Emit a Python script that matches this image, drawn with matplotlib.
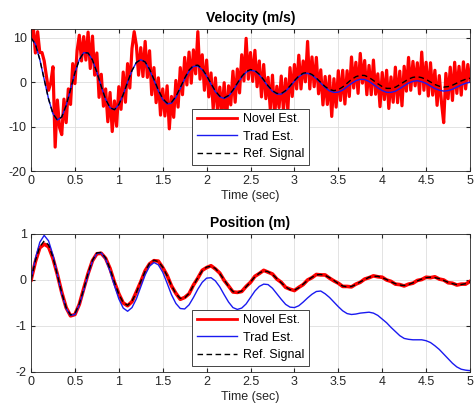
import numpy as np
import matplotlib
matplotlib.use("Agg")
import matplotlib.pyplot as plt

plt.rcParams["font.family"] = "Liberation Sans"
plt.rcParams["font.size"] = 9
plt.rcParams["axes.unicode_minus"] = False

# sample times: 0.05 s for the smooth signals, 0.025 s for the noisy estimate
t = np.linspace(0, 5, 101)
t_fine = np.linspace(0, 5, 201)

# velocity (m/s)
vel_ref = [10.0, 8.60, 5.13, 0.66, -3.79, -7.09, -8.51, -7.82, -5.26, -1.64,
           2.13, 5.10, 6.67, 6.59, 5.01, 2.27, -0.94, -3.85, -5.74, -6.18,
           -5.03, -2.78, 0.03, 2.66, 4.47, 5.09, 4.58, 2.97, 0.68, -1.74,
           -3.68, -4.69, -4.50, -3.20, -1.21, 0.93, 2.74, 3.77, 3.86, 3.02,
           1.53, -0.29, -2.00, -3.13, -3.50, -2.97, -1.76, -0.20, 1.32, 2.42,
           2.87, 2.66, 1.81, 0.56, -0.79, -1.89, -2.50, -2.53, -1.87, -0.83,
           0.37, 1.40, 2.06, 2.19, 1.75, 0.96, -0.03, -0.98, -1.65, -1.89,
           -1.67, -1.06, -0.22, 0.62, 1.26, 1.57, 1.53, 1.08, 0.40, -0.34,
           -0.97, -1.37, -1.38, -1.11, -0.54, 0.11, 0.72, 1.11, 1.25, 1.04,
           0.63, 0.06, -0.50, -0.89, -1.09, -0.98, -0.67, -0.19, 0.30, 0.68,
           0.92]

vel_trad = [10.0, 8.60, 5.13, 0.66, -3.79, -7.09, -8.51, -7.82, -5.26, -1.64,
            2.13, 5.10, 6.67, 6.59, 5.01, 2.27, -0.94, -3.85, -5.74, -6.18,
            -5.03, -2.78, 0.03, 2.66, 4.47, 5.09, 4.58, 2.77, 0.48, -1.94,
            -3.88, -4.89, -4.70, -3.40, -1.41, 0.73, 2.54, 3.57, 3.66, 2.82,
            1.38, -0.44, -2.15, -3.28, -3.65, -3.12, -1.91, -0.35, 1.17, 2.27,
            2.72, 2.51, 1.66, 0.41, -0.94, -2.04, -2.65, -2.68, -2.02, -0.98,
            0.22, 1.25, 1.91, 2.04, 1.60, 0.81, -0.18, -1.18, -1.95, -2.29,
            -2.22, -1.76, -1.02, -0.28, 0.36, 0.67, 0.63, 0.18, -0.50, -1.24,
            -1.87, -2.27, -2.28, -2.01, -1.44, -0.79, -0.18, 0.21, 0.35, 0.14,
            -0.27, -0.84, -1.40, -1.79, -1.99, -1.88, -1.57, -1.09, -0.60, -0.22,
            0.02]

vel_novel = [10.0, 12.7, 6.6, 11.4, 6.7, 6.7, 4.8, 1.4, -1.8, -0.1,
             3.5, -14.6, -4.0, -10.2, -11.8, -3.8, -9.1, -1.5, -5.0, 4.2,
             -0.3, 7.1, 10.6, 4.8, 10.3, 5.0, 11.3, 3.1, 10.4, 1.6,
             6.6, -3.4, 1.8, -5.4, -1.5, -8.9, -2.3, -11.1, -4.2, -9.9,
             -1.0, -6.1, 2.3, -4.5, 4.2, -1.3, 7.6, 11.4, 8.3, 1.6,
             7.8, 1.3, 9.2, 1.1, 7.1, -2.8, 3.3, -4.6, 1.0, -7.4,
             -1.5, -7.6, -0.8, -10.5, -3.2, -7.9, 0.4, -5.6, 3.3, -2.8,
             5.6, -0.6, 6.8, -0.2, 7.3, 1.9, 11.4, 0.7, 6.2, -1.8,
             5.0, -3.3, 2.1, -6.0, 1.0, -6.7, -1.1, -7.1, -0.1, -8.9,
             -0.8, -5.1, 2.5, -4.5, 3.0, -2.4, 6.2, 0.3, 9.9, 0.7,
             6.7, 0.2, 7.2, -1.0, 4.8, -3.3, 4.0, -3.7, 1.1, -6.0,
             1.6, -7.5, -0.9, -5.7, 1.4, -6.4, 0.8, -6.3, 3.3, -3.2,
             4.0, -1.5, 6.1, -1.5, 4.8, 0.1, 9.2, -1.5, 5.7, -1.0,
             5.6, -2.6, 2.8, -5.1, 1.3, -5.0, 1.4, -7.7, 0.8, -5.6,
             2.6, -4.1, 2.7, -4.9, 2.6, -3.2, 5.7, -1.3, 4.5, -2.5,
             6.5, -0.2, 4.9, -2.8, 3.8, -2.8, 5.0, -2.7, 1.9, -5.5,
             2.2, -3.9, 2.7, -5.9, 1.2, -4.5, 3.4, -4.6, 2.5, -5.3,
             3.6, -2.0, 5.6, -1.8, 4.7, -0.8, 4.4, -2.6, 6.8, -1.8,
             4.5, -3.1, 4.4, -2.9, 2.7, -5.2, 1.5, -4.5, -9.1, 2.0,
             -3.7, 3.4, -4.1, 4.5, -2.5, 3.6, -2.9, 4.6, -1.5, 4.0,
             0.2]

# position (m)
pos_ref = [0.00, 0.42, 0.72, 0.85, 0.76, 0.49, 0.11, -0.28, -0.60, -0.76,
           -0.73, -0.52, -0.20, 0.15, 0.43, 0.59, 0.60, 0.48, 0.24, -0.04,
           -0.31, -0.49, -0.55, -0.46, -0.27, -0.03, 0.19, 0.36, 0.43, 0.40,
           0.28, 0.09, -0.12, -0.30, -0.40, -0.39, -0.29, -0.12, 0.05, 0.20,
           0.28, 0.30, 0.25, 0.14, 0.00, -0.14, -0.25, -0.28, -0.24, -0.15,
           -0.04, 0.07, 0.15, 0.20, 0.18, 0.12, 0.03, -0.06, -0.15, -0.21,
           -0.22, -0.17, -0.09, -0.01, 0.06, 0.11, 0.12, 0.10, 0.05, -0.01,
           -0.08, -0.13, -0.15, -0.14, -0.10, -0.04, 0.01, 0.06, 0.08, 0.08,
           0.05, 0.01, -0.04, -0.08, -0.11, -0.12, -0.10, -0.06, -0.02, 0.02,
           0.05, 0.06, 0.05, 0.03, -0.01, -0.05, -0.08, -0.10, -0.10, -0.08,
           -0.04]

pos_trad = [0.00, 0.47, 0.82, 0.97, 0.85, 0.54, 0.12, -0.30, -0.62, -0.77,
            -0.75, -0.54, -0.23, 0.11, 0.41, 0.58, 0.59, 0.45, 0.19, -0.12,
            -0.41, -0.61, -0.68, -0.60, -0.41, -0.15, 0.11, 0.30, 0.38, 0.33,
            0.17, -0.07, -0.32, -0.51, -0.62, -0.63, -0.54, -0.38, -0.20, -0.05,
            0.04, 0.05, -0.02, -0.15, -0.32, -0.48, -0.60, -0.64, -0.61, -0.52,
            -0.38, -0.24, -0.14, -0.09, -0.10, -0.18, -0.30, -0.42, -0.53, -0.59,
            -0.60, -0.56, -0.48, -0.39, -0.31, -0.25, -0.24, -0.30, -0.38, -0.48,
            -0.58, -0.67, -0.73, -0.75, -0.74, -0.72, -0.71, -0.70, -0.72, -0.77,
            -0.85, -0.93, -1.03, -1.12, -1.21, -1.27, -1.29, -1.30, -1.30, -1.30,
            -1.32, -1.36, -1.43, -1.51, -1.61, -1.71, -1.81, -1.89, -1.94, -1.96,
            -1.97]

pos_novel = [0.00, 0.40, 0.70, 0.78, 0.72, 0.47, 0.12, -0.27, -0.60, -0.78,
             -0.75, -0.53, -0.19, 0.14, 0.42, 0.57, 0.58, 0.47, 0.25, -0.05,
             -0.30, -0.50, -0.56, -0.47, -0.26, -0.04, 0.20, 0.35, 0.42, 0.41,
             0.27, 0.10, -0.13, -0.29, -0.42, -0.38, -0.30, -0.11, 0.04, 0.21,
             0.27, 0.31, 0.24, 0.15, -0.01, -0.13, -0.26, -0.27, -0.25, -0.14,
             -0.05, 0.08, 0.14, 0.21, 0.17, 0.13, 0.02, -0.05, -0.16, -0.20,
             -0.23, -0.16, -0.10, 0.00, 0.05, 0.12, 0.11, 0.11, 0.04, -0.02,
             -0.07, -0.14, -0.14, -0.15, -0.09, -0.05, 0.02, 0.05, 0.09, 0.07,
             0.06, 0.00, -0.03, -0.09, -0.10, -0.13, -0.09, -0.07, -0.01, 0.01,
             0.06, 0.05, 0.07, 0.02, 0.00, -0.06, -0.07, -0.11, -0.09, -0.09,
             -0.03]

x_ticks = [0, 0.5, 1, 1.5, 2, 2.5, 3, 3.5, 4, 4.5, 5]
x_ticklabels = ["0", "0.5", "1", "1.5", "2", "2.5", "3", "3.5", "4", "4.5", "5"]
labels = ["Novel Est.", "Trad Est.", "Ref. Signal"]

dark = "#262626"
red = "#ff0000"
blue = "#1a1af0"


def draw(ax, t_novel, novel, trad, ref, title, ylim, yticks, red_lw):
    ax.plot(t_novel, novel, color=red, lw=red_lw, label=labels[0])
    ax.plot(t, trad, color=blue, lw=1.0, label=labels[1])
    ax.plot(t, ref, color="k", lw=1.0, dashes=(4, 2.5), label=labels[2])

    ax.set_xlim(0, 5)
    ax.set_ylim(*ylim)
    ax.set_xticks(x_ticks)
    ax.set_xticklabels(x_ticklabels)
    ax.set_yticks(yticks)
    ax.grid(True, color="#dedede", lw=0.6)
    ax.set_axisbelow(True)
    ax.tick_params(direction="in", length=3, top=True, right=True,
                   colors=dark, labelsize=9, pad=3)
    for s in ax.spines.values():
        s.set_color(dark)
        s.set_linewidth(0.6)
    ax.set_title(title, fontweight="bold", fontsize=10, pad=5)
    ax.set_xlabel("Time (sec)", color=dark, labelpad=2)

    leg = ax.legend(loc="lower center", bbox_to_anchor=(0.5, 0.045),
                    borderaxespad=0, handlelength=3.2, labelspacing=0.45,
                    handletextpad=0.5, borderpad=0.35, fancybox=False,
                    edgecolor=dark, framealpha=1)
    leg.get_frame().set_linewidth(0.6)
    for line in leg.get_lines():
        line.set_linewidth(min(line.get_linewidth(), 2.0))


fig = plt.figure(figsize=(4.75, 4.11), dpi=100)
ax1 = fig.add_axes([0.0653, 0.5839, 0.9242, 0.3455])
ax2 = fig.add_axes([0.0653, 0.0949, 0.9242, 0.3358])

draw(ax1, t_fine, vel_novel, vel_trad, vel_ref, "Velocity (m/s)",
     (-20, 12), [-20, -10, 0, 10], 2.3)
draw(ax2, t, pos_novel, pos_trad, pos_ref, "Position (m)",
     (-2, 1), [-2, -1, 0, 1], 2.6)

fig.savefig("out.png", dpi=100)
